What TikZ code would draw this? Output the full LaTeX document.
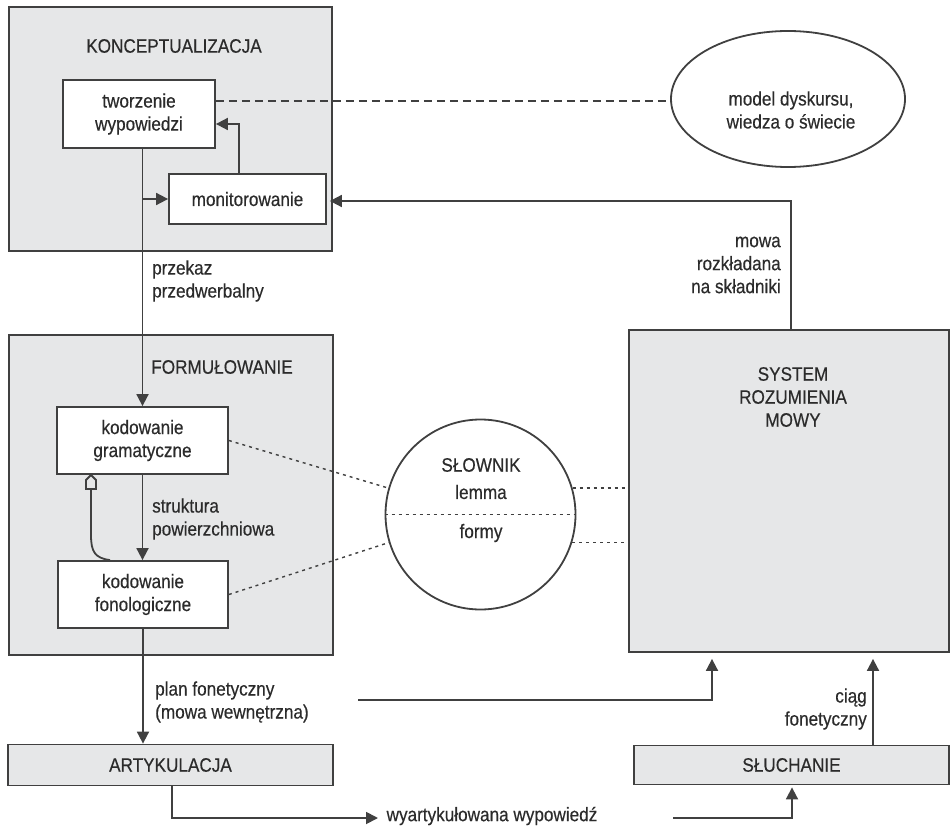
\documentclass[tikz,border=0pt]{standalone}
\usepackage{fontspec}
\setmainfont[FakeStretch=0.88,FakeBold=0.4]{Liberation Sans}
\usetikzlibrary{arrows.meta,shapes.geometric}
\definecolor{boxfill}{HTML}{E6E7E8}
\definecolor{edge}{HTML}{404040}
\definecolor{ink}{HTML}{2B2B2B}
\tikzset{
  lbl/.style={font=\fontsize{19.5}{23}\selectfont, text=ink, inner sep=0pt},
  panel/.style={draw=edge, fill=boxfill, line width=1.8pt, inner sep=0pt, lbl},
  whitebox/.style={draw=edge, fill=white, line width=1.8pt, inner sep=0pt, align=center, lbl},
  flow/.style={draw=edge, line width=1.8pt, -{Triangle[length=12pt,width=12pt]}},
  link/.style={draw=edge, line width=1.8pt},
  dots/.style={draw=edge, line width=1.4pt, dash pattern=on 3pt off 4pt},
  dashes/.style={draw=edge, line width=1.5pt, dash pattern=on 8pt off 5pt},
}
\begin{document}
\begin{tikzpicture}[x=1pt,y=-1pt]
\useasboundingbox (0,0) rectangle (950,829);

% large shaded panels
\node[panel, minimum width=323pt, minimum height=244pt] (konc) at (170.5,129) {};
\node[panel, minimum width=324pt, minimum height=320pt] (form) at (171,495) {};
\node[panel, minimum width=320pt, minimum height=322pt] (sys) at (789,491) {};
\node[panel, minimum width=325pt, minimum height=41pt] (artyk) at (170.5,765) {ARTYKULACJA};
\node[panel, minimum width=315pt, minimum height=39pt] (sluch) at (791.5,765) {SŁUCHANIE};

% panel titles
\node[lbl] (konctitle) at (174,46) {KONCEPTUALIZACJA};
\node[lbl] (formtitle) at (222,367) {FORMUŁOWANIE};
\node[lbl, align=center] (systitle) at (793,397) {SYSTEM\\ROZUMIENIA\\MOWY};

% processing boxes
\node[whitebox, minimum width=152pt, minimum height=68pt] (tworz) at (139,114) {tworzenie\\wypowiedzi};
\node[whitebox, minimum width=157pt, minimum height=50pt] (monit) at (247.5,199) {monitorowanie};
\node[whitebox, minimum width=171pt, minimum height=67pt] (gram) at (142.5,440.5) {kodowanie\\gramatyczne};
\node[whitebox, minimum width=170pt, minimum height=67pt] (fon) at (143,594.5) {kodowanie\\fonologiczne};

% knowledge stores
\node[draw=edge, line width=1.8pt, ellipse, minimum width=234pt, minimum height=136pt, inner sep=0pt] (model) at (788,99) {};
\node[lbl, align=center] (modeltxt) at (791,110) {model dyskursu,\\wiedza o świecie};
\node[draw=edge, fill=white, line width=1.8pt, circle, minimum size=190pt, inner sep=0pt] (slow) at (480.5,514.5) {};
\draw[dots] (slow.west) -- (slow.east);
\node[lbl] (slowtitle) at (481,465) {SŁOWNIK};
\node[lbl] (lemma) at (481,492) {lemma};
\node[lbl] (formy) at (481,533) {formy};

% connector labels
\node[lbl, align=left, anchor=west] (przekaz) at (152,281) {przekaz\\przedwerbalny};
\node[lbl, align=left, anchor=west] (struct) at (152,519) {struktura\\powierzchniowa};
\node[lbl, align=right, anchor=east] (mowa) at (781,265) {mowa\\rozkładana\\na składniki};
\node[lbl, align=left, anchor=west] (plan) at (155,702) {plan fonetyczny\\(mowa wewnętrzna)};
\node[lbl, align=right, anchor=east] (ciag) at (867,709) {ciąg\\fonetyczny};
\node[lbl] (wyart) at (492,816) {wyartykułowana wypowiedź};

% conceptualizer
\draw[flow] (tworz.south -| gram.north) -- (gram.north);
\coordinate (br) at (gram.north |- monit.west);
\draw[flow] (br) -- (monit.west);
\coordinate (mfb) at (239,124);
\draw[flow] (mfb |- monit.north) -- (mfb) -- (mfb -| tworz.east);
\draw[dashes] ([yshift=13pt]tworz.east) -- ([yshift=13pt]tworz.east -| model.west);
\coordinate (sysup) at (791,201);
\draw[flow, shorten >=3pt] (sysup |- sys.north) -- (sysup) -- (sysup -| monit.east);

% formulator
\draw[flow] (gram.south) -- (gram.south |- fon.north);
\coordinate (fbtop) at (91,489);
\draw[link] ([xshift=-33pt]fon.north) .. controls (95,558) and (91,552) .. (91,535) -- (fbtop);
\draw[draw=edge, line width=1.8pt, fill=boxfill] (91,475) -- (96,480) -- (96,489) -- (86,489) -- (86,480) -- cycle;
\draw[dots] (gram.east) -- (slow.164);
\draw[dots] (fon.east) -- (slow.197);
\draw[dots] (slow.16) -- (slow.16 -| sys.west);
\draw[dots] (slow.-17) -- (slow.-17 -| sys.west);

% articulation and listening
\draw[flow] (fon.south) -- (fon.south |- artyk.north);
\coordinate (planstart) at (358,700);
\coordinate (planup) at (712,700);
\draw[flow, shorten >=6pt] (planstart) -- (planup) -- (planup |- sys.south);
\coordinate (ciagx) at (873,700);
\draw[flow, shorten >=6pt] (ciagx |- sluch.north) -- (ciagx |- sys.south);
\coordinate (outturn) at (172,818);
\coordinate (outend) at (378,818);
\draw[flow] (outturn |- artyk.south) -- (outturn) -- (outend);
\coordinate (instart) at (673,818);
\coordinate (inturn) at (792,818);
\draw[flow, shorten >=2pt] (instart) -- (inturn) -- (inturn |- sluch.south);
\end{tikzpicture}
\end{document}
